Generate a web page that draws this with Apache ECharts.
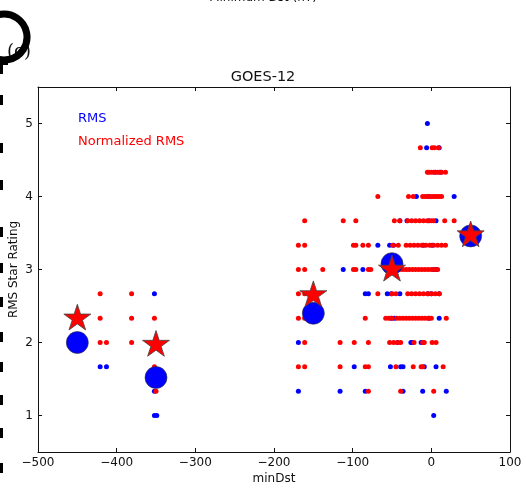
<!DOCTYPE html>
<html>
<head>
<meta charset="utf-8">
<script src="https://cdn.jsdelivr.net/npm/echarts@6/dist/echarts.min.js"></script>
<style>
  html, body { margin: 0; padding: 0; background: #fff; }
  #chart { width: 526px; height: 488px; }
</style>
</head>
<body>
<div id="chart"></div>
<script>
// small dots: [minDst, star rating]
var rmsPoints = [
    [-5, 5],
    [-6, 4.667], [10, 4.667],
    [5, 4.333], [12, 4.333],
    [-19, 4], [-3, 4], [29, 4],
    [-40, 3.667], [-31, 3.667], [-3, 3.667], [6, 3.667],
    [-68, 3.333], [-53, 3.333], [-48, 3.333], [-10, 3.333], [1, 3.333],
    [-112, 3], [-87, 3], [-55, 3], [-48, 3], [3, 3], [6, 3],
    [-352, 2.667], [-84, 2.667], [-80, 2.667], [-56, 2.667], [-51, 2.667], [-40, 2.667], [-4, 2.667], [0, 2.667], [10, 2.667],
    [-51, 2.333], [-47, 2.333], [-3, 2.333], [10, 2.333],
    [-169, 2], [-43, 2], [-26, 2], [-24, 2], [-13, 2],
    [-421, 1.667], [-413, 1.667], [-98, 1.667], [-52, 1.667], [-39, 1.667], [-36, 1.667], [-9, 1.667], [6, 1.667],
    [-352, 1.333], [-169, 1.333], [-116, 1.333], [-84, 1.333], [-36, 1.333], [-11, 1.333], [19, 1.333],
    [-352, 1], [-349, 1], [3, 1]
];
var normPoints = [
    [-14, 4.667], [1, 4.667], [4, 4.667], [9, 4.667],
    [-5, 4.333], [-3, 4.333], [0, 4.333], [3, 4.333], [8, 4.333], [10, 4.333], [13, 4.333], [18, 4.333],
    [-68, 4], [-29, 4], [-23, 4], [-11, 4], [-8, 4], [-5, 4], [-2, 4], [1, 4], [4, 4], [7, 4], [10, 4], [13, 4],
    [-161, 3.667], [-112, 3.667], [-96, 3.667], [-47, 3.667], [-40, 3.667], [-30, 3.667], [-25, 3.667], [-20, 3.667], [-15, 3.667], [-10, 3.667], [-5, 3.667], [0, 3.667], [3, 3.667], [17, 3.667], [29, 3.667],
    [-169, 3.333], [-161, 3.333], [-99, 3.333], [-96, 3.333], [-87, 3.333], [-80, 3.333], [-49, 3.333], [-42, 3.333], [-32, 3.333], [-27, 3.333], [-22, 3.333], [-17, 3.333], [-12, 3.333], [-7, 3.333], [-2, 3.333], [3, 3.333], [8, 3.333], [13, 3.333], [18, 3.333],
    [-169, 3], [-161, 3], [-138, 3], [-99, 3], [-96, 3], [-80, 3], [-77, 3], [-44, 3], [-40, 3], [-36, 3], [-32, 3], [-28, 3], [-24, 3], [-20, 3], [-16, 3], [-12, 3], [-8, 3], [-4, 3], [0, 3], [4, 3], [8, 3],
    [-421, 2.667], [-381, 2.667], [-169, 2.667], [-161, 2.667], [-68, 2.667], [-50, 2.667], [-45, 2.667], [-30, 2.667], [-25, 2.667], [-20, 2.667], [-15, 2.667], [-10, 2.667], [-5, 2.667], [0, 2.667], [5, 2.667], [10, 2.667],
    [-421, 2.333], [-381, 2.333], [-352, 2.333], [-169, 2.333], [-161, 2.333], [-84, 2.333], [-58, 2.333], [-54, 2.333], [-50, 2.333], [-44, 2.333], [-40, 2.333], [-36, 2.333], [-32, 2.333], [-28, 2.333], [-24, 2.333], [-20, 2.333], [-16, 2.333], [-12, 2.333], [-8, 2.333], [-4, 2.333], [0, 2.333], [19, 2.333],
    [-421, 2], [-413, 2], [-381, 2], [-161, 2], [-116, 2], [-98, 2], [-80, 2], [-53, 2], [-48, 2], [-43, 2], [-39, 2], [-22, 2], [-11, 2], [-9, 2], [1, 2], [6, 2],
    [-352, 1.667], [-169, 1.667], [-161, 1.667], [-116, 1.667], [-84, 1.667], [-80, 1.667], [-45, 1.667], [-23, 1.667], [-13, 1.667], [-11, 1.667], [15, 1.667],
    [-350, 1.333], [-80, 1.333], [-39, 1.333], [3, 1.333]
];
// bin means (big markers)
var binCenters = [-450, -350, -150, -50, 50];
var rmsMeans = [2.0, 1.52, 2.40, 3.08, 3.46];
var normMeans = [2.33, 1.97, 2.65, 3.0, 3.47];
var ratingTicks = [1, 2, 3, 4, 5];

var FONT = 'DejaVu Sans';
var starPath = 'path://M0,-100L22.45,-30.9L95.1,-30.9L36.3,11.8L58.8,80.9L0,38.2L-58.8,80.9L-36.3,11.8L-95.1,-30.9L-22.45,-30.9Z';

function minus(v) {
    return String(v).replace('-', '\u2212');
}
function pairs(xs, ys) {
    var out = [];
    for (var i = 0; i < xs.length; i++) {
        out.push([xs[i], ys[i]]);
    }
    return out;
}

var axisLineStyle = { color: '#111', width: 1 };
var tickStyle = { show: true, inside: true, length: 4, lineStyle: { color: '#111' } };

// left edge scraps from the neighbouring panel
var edgeMarks = [95, 143, 180, 227, 263, 297, 332, 362, 395, 428, 463];
var graphics = [
    { type: 'text', left: 'center', top: -8, style: { text: 'Minimum Dst (nT)', font: '12px "DejaVu Sans"', fill: '#111' } },
    { type: 'text', left: 7, top: 43, style: { text: '(c)', font: '18px "DejaVu Serif"', fill: '#111' } },
    { type: 'arc', shape: { cx: 4, cy: 37, r: 23, startAngle: -Math.PI / 2 - 0.2, endAngle: Math.PI / 2 + 0.45 },
      style: { stroke: '#000', lineWidth: 7, fill: null } },
    { type: 'rect', shape: { x: 0, y: 62, width: 8, height: 3 }, style: { fill: '#000' } },
    { type: 'rect', shape: { x: 0, y: 62, width: 3, height: 12 }, style: { fill: '#000' } }
];
edgeMarks.forEach(function (y) {
    graphics.push({ type: 'rect', shape: { x: 0, y: y, width: 3, height: 10 }, style: { fill: '#000' } });
});

var myChart = echarts.init(document.getElementById('chart'));
var option = {
    animation: false,
    backgroundColor: '#fff',
    textStyle: { fontFamily: FONT },
    title: {
        text: 'GOES-12',
        left: 'center',
        top: 70,
        padding: 0,
        textStyle: { fontFamily: FONT, fontSize: 14.5, fontWeight: 'normal', color: '#111' }
    },
    legend: {
        orient: 'vertical',
        left: 73,
        top: 112,
        icon: 'none',
        itemWidth: 0,
        itemHeight: 10,
        itemGap: 10,
        padding: 0,
        selectedMode: false,
        textStyle: { fontFamily: FONT, fontSize: 13 },
        data: [
            { name: 'RMS', textStyle: { color: '#0000ff' } },
            { name: 'Normalized RMS', textStyle: { color: '#ff0000' } }
        ]
    },
    grid: { left: 38, right: 16, top: 87, bottom: 36, containLabel: false, outerBoundsMode: 'none' },
    xAxis: [
        {
            type: 'value',
            min: -500,
            max: 100,
            interval: 100,
            name: 'minDst',
            nameLocation: 'middle',
            nameGap: 21,
            nameMoveOverlap: false,
            nameTextStyle: { fontFamily: FONT, fontSize: 12, color: '#111' },
            axisLine: { show: true, onZero: false, lineStyle: axisLineStyle },
            axisTick: tickStyle,
            axisLabel: { fontFamily: FONT, fontSize: 12, color: '#111', margin: 5, formatter: minus },
            splitLine: { show: false }
        },
        {
            type: 'value',
            position: 'top',
            min: -500,
            max: 100,
            interval: 100,
            axisLine: { show: true, onZero: false, lineStyle: axisLineStyle },
            axisTick: tickStyle,
            axisLabel: { show: false },
            splitLine: { show: false }
        }
    ],
    yAxis: [
        {
            type: 'value',
            min: 0.5,
            max: 5.5,
            name: 'RMS Star Rating',
            nameLocation: 'middle',
            nameGap: 18,
            nameMoveOverlap: false,
            nameTextStyle: { fontFamily: FONT, fontSize: 12, color: '#111' },
            axisLine: { show: true, onZero: false, lineStyle: axisLineStyle },
            axisTick: { show: true, inside: true, length: 4, lineStyle: { color: '#111' }, customValues: ratingTicks },
            axisLabel: { fontFamily: FONT, fontSize: 12, color: '#111', margin: 5, customValues: ratingTicks },
            splitLine: { show: false }
        },
        {
            type: 'value',
            position: 'right',
            min: 0.5,
            max: 5.5,
            axisLine: { show: true, onZero: false, lineStyle: axisLineStyle },
            axisTick: { show: true, inside: true, length: 4, lineStyle: { color: '#111' }, customValues: ratingTicks },
            axisLabel: { show: false, customValues: ratingTicks },
            splitLine: { show: false }
        }
    ],
    series: [
        {
            name: 'RMS',
            type: 'scatter',
            symbol: 'circle',
            symbolSize: 5,
            itemStyle: { color: '#0000ff', opacity: 1 },
            data: rmsPoints
        },
        {
            name: 'Normalized RMS',
            type: 'scatter',
            symbol: 'circle',
            symbolSize: 5,
            itemStyle: { color: '#ff0000', opacity: 1 },
            data: normPoints
        },
        {
            name: 'RMS mean',
            type: 'scatter',
            symbol: 'circle',
            symbolSize: 22,
            itemStyle: { color: '#0000ff', borderColor: '#333', borderWidth: 0.6, opacity: 1 },
            data: pairs(binCenters, rmsMeans)
        },
        {
            name: 'Normalized RMS mean',
            type: 'scatter',
            symbol: starPath,
            symbolKeepAspect: true,
            symbolSize: 27,
            symbolOffset: [0, -1.3],
            itemStyle: { color: '#ff0000', borderColor: '#444', borderWidth: 0.8, opacity: 1 },
            data: pairs(binCenters, normMeans)
        }
    ],
    graphic: graphics
};
myChart.setOption(option);
</script>
</body>
</html>
